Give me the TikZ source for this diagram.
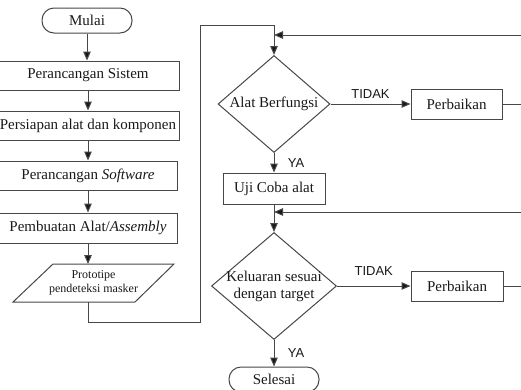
\documentclass[tikz,border=0pt]{standalone}
\usepackage{fontspec}
\setmainfont{Liberation Serif}
\setsansfont{Liberation Sans}
\usetikzlibrary{arrows.meta, shapes.geometric}

\tikzset{
    garis/.style={line width=1pt, draw=black!72},
    panah/.style={garis, -{Triangle[length=9pt,width=7.5pt,fill=black!90]}},
    kotak/.style={garis, text=black!90, minimum height=29pt, inner sep=2pt, font=\fontsize{15}{17}\selectfont},
    terminal/.style={kotak, rounded corners=12pt, minimum width=90pt, minimum height=25pt},
    keputusan/.style={garis, diamond, inner sep=0pt},
    teks/.style={text=black!90, align=center, font=\fontsize{15}{17}\selectfont},
    ket/.style={text=black!90, font=\sffamily\fontsize{13}{15}\selectfont},
}

\begin{document}
\begin{tikzpicture}[x=1pt, y=-1pt]
    \useasboundingbox (0,0) rectangle (521,389);
    \clip (0,0) rectangle (521,389);

    % kolom kiri
    \node[terminal] (mulai) at (87,20.5) {Mulai};
    \node[kotak, minimum width=182pt] (sistem) at (88,75.5) {Perancangan Sistem};
    \node[kotak, minimum width=182pt] (persiapan) at (88,125.5) {Persiapan alat dan komponen};
    \node[kotak, minimum width=178pt] (software) at (88,175.5) {Perancangan \textit{Software}};
    \node[kotak, minimum width=178pt, minimum height=30pt] (pembuatan) at (88,228) {Pembuatan Alat/\textit{Assembly}};

    \node[teks, font=\fontsize{12}{14}\selectfont] (proto) at (93.5,283) {Prototipe\\pendeteksi masker};
    \draw[garis] (13,302) -- (53,264) -- (174,264) -- (135,302) -- cycle;
    \coordinate (protoatas) at (88,264);
    \coordinate (protobawah) at (88,302);

    \draw[panah] (mulai) -- (mulai |- sistem.north);
    \draw[panah] (sistem) -- (sistem |- persiapan.north);
    \draw[panah] (persiapan) -- (persiapan |- software.north);
    \draw[panah] (software) -- (software |- pembuatan.north);
    \draw[panah] (pembuatan) -- (protoatas);

    % kolom kanan
    \node[keputusan, minimum width=112pt, minimum height=97pt] (cek1) at (274,104) {};
    \node[teks] (cek1teks) at (cek1) {Alat Berfungsi};
    \node[kotak, minimum width=91pt, minimum height=30pt] (perbaikan1) at (456.5,104) {Perbaikan};
    \node[kotak, minimum width=102pt, minimum height=31pt] (uji) at (274,188.5) {Uji Coba alat};
    \node[keputusan, minimum width=125pt, minimum height=107pt] (cek2) at (274,286) {};
    \node[teks] (cek2teks) at (cek2) {Keluaran sesuai\\dengan target};
    \node[kotak, minimum width=92pt, minimum height=30pt] (perbaikan2) at (457,286) {Perbaikan};
    \node[terminal] (selesai) at (274,379.5) {Selesai};

    \coordinate (masuk1) at (274,35);
    \coordinate (masuk2) at (274,212);

    \draw[panah] (protobawah) |- (200,322) -- (200,25) -| (cek1.north);
    \draw[panah] (cek1) -- (perbaikan1) node[midway, above=2pt, ket] {TIDAK};
    \draw[panah] (perbaikan1.east) -| (530,35) -- (masuk1);
    \draw[panah] (cek1) -- (uji) node[midway, right=10pt, ket] {YA};
    \draw[panah] (uji) -- (cek2);
    \draw[panah] (cek2) -- (perbaikan2) node[midway, above=7pt, ket] {TIDAK};
    \draw[panah] (perbaikan2.east) -| (530,212) -- (masuk2);
    \draw[panah] (cek2) -- (selesai) node[midway, right=10pt, ket] {YA};
\end{tikzpicture}
\end{document}
